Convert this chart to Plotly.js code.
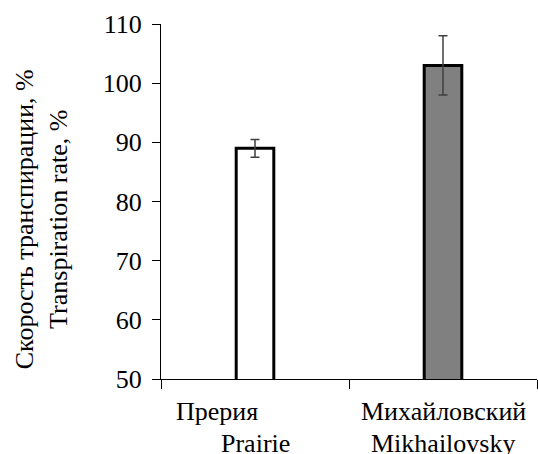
<!DOCTYPE html>
<html><head><meta charset="utf-8">
<script src="https://cdn.plot.ly/plotly-3.0.1.min.js"></script>
<style>body{margin:0;padding:0;background:#fff}#c{width:538px;height:454px}</style>
</head><body><div id="c"></div>
<script>
const categories = ["Прерия", "Михайловский"];
const labelsRu = ["Прерия", "Михайловский"];
const labelsEn = ["Prairie", "Mikhailovsky"];
const values = [89, 103];
const errors = [1.5, 5];
const fills = ["#ffffff", "#808080"];
const yTicks = [50, 60, 70, 80, 90, 100, 110];
const yTitleRu = "Скорость транспирации, %";
const yTitleEn = "Transpiration rate, %";

const font = "serif";
const fs = 26;
const ruShift = [-38, 0];

const annotations = [];
categories.forEach((c, i) => {
  annotations.push({x: c, xref: 'x', y: 0, yref: 'paper', yanchor: 'middle', yshift: -32, xshift: ruShift[i],
    text: labelsRu[i], showarrow: false, font: {family: font, size: fs, color: '#000'}});
  annotations.push({x: c, xref: 'x', y: 0, yref: 'paper', yanchor: 'middle', yshift: -64, xshift: 0,
    text: labelsEn[i], showarrow: false, font: {family: font, size: fs, color: '#000'}});
});
annotations.push({x: 0, xref: 'paper', y: 0.45, yref: 'paper', xanchor: 'center', yanchor: 'middle',
  xshift: -120, textangle: -90, text: yTitleRu + '<br>' + yTitleEn, showarrow: false,
  font: {family: font, size: fs, color: '#000'}});

const trace = {
  type: 'bar', x: categories, y: values,
  marker: {color: fills, line: {color: '#000', width: 3}},
  error_y: {type: 'data', array: errors, visible: true, color: '#404040', thickness: 1.5, width: 4.5},
  hoverinfo: 'none'
};

const layout = {
  width: 538, height: 454,
  margin: {l: 161, r: 1, t: 24, b: 75},
  paper_bgcolor: '#fff', plot_bgcolor: '#fff',
  showlegend: false,
  bargap: 0.8,
  xaxis: {
    type: 'category', showticklabels: false, ticks: 'outside', tickson: 'boundaries',
    ticklen: 9, tickcolor: '#000', tickwidth: 1, showline: true, linecolor: '#000', linewidth: 1,
    showgrid: false, zeroline: false, fixedrange: true
  },
  yaxis: {
    range: [50, 110], tickvals: yTicks, ticks: 'outside', ticklen: 8, tickcolor: '#000', tickwidth: 1,
    showline: true, linecolor: '#000', linewidth: 1, showgrid: false, zeroline: false,
    tickfont: {family: font, size: fs, color: '#000'}, ticklabelstandoff: 5
  },
  annotations: annotations
};

Plotly.newPlot('c', [trace], layout, {staticPlot: true});
</script></body></html>
